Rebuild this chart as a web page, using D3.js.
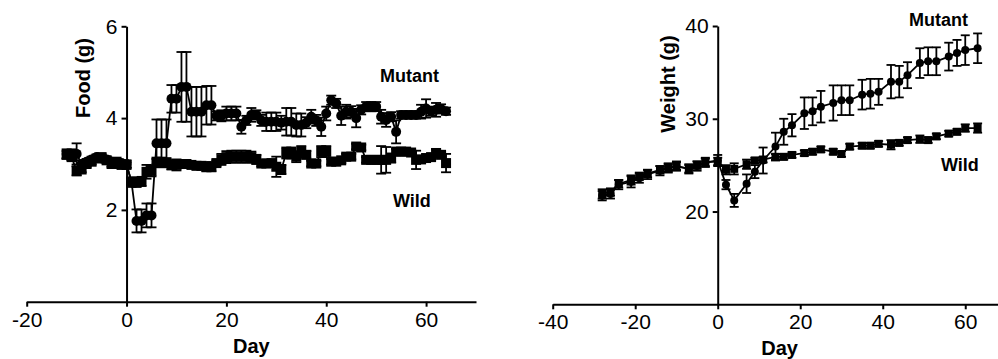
<!DOCTYPE html>
<html>
<head>
<meta charset="utf-8">
<script src="https://cdn.jsdelivr.net/npm/d3@7"></script>
<style>
  body { margin: 0; background: #fff; }
  svg { display: block; font-family: "Liberation Sans", Arial, sans-serif; }
  .axis path, .axis line { stroke: #000; stroke-width: 2; }
  .axis text { font-size: 21px; fill: #000; font-family: "Liberation Sans", Arial, sans-serif; }
  .title { font-size: 20px; font-weight: bold; fill: #000; }
  .label { font-size: 18px; font-weight: bold; fill: #000; }
</style>
</head>
<body>
<svg id="chart" width="998" height="359"></svg>
<script>
// ---- Food intake (g), daily, day -12 .. 64
const foodDays = [-12, -11, -10, -9, -8, -7, -6, -5, -4, -3, -2, -1,
    0, 1, 2, 3, 4, 5, 6, 7, 8, 9, 10, 11, 12, 13, 14, 15, 16, 17, 18, 19,
    20, 21, 22, 23, 24, 25, 26, 27, 28, 29, 30, 31, 32, 33, 34, 35, 36, 37, 38, 39,
    40, 41, 42, 43, 44, 45, 46, 47, 48, 49, 50, 51, 52, 53, 54, 55, 56, 57, 58, 59,
    60, 61, 62, 63, 64];
const foodMutant = [3.22, 3.2, 3.22, 3.0, 3.05, 3.1, 3.15, 3.12, 3.1, 3.05, 3.0, 3.02,
    3.0, 2.6, 1.76, 1.76, 1.88, 1.88, 3.45, 3.45, 3.45, 4.42, 4.42, 4.68, 4.68, 4.14, 4.14, 4.14, 4.28, 4.28, 4.05, 4.05,
    4.1, 4.1, 4.1, 3.81, 3.95, 4.07, 4.07, 3.95, 3.92, 3.92, 3.92, 3.9, 3.92, 3.92, 3.85, 3.85, 3.9, 4.03, 3.95, 3.81,
    4.1, 4.39, 4.32, 4.05, 4.14, 4.14, 4.0, 4.18, 4.25, 4.25, 4.25, 4.03, 3.96, 4.03, 3.7, 4.07, 4.07, 4.07, 4.07, 4.14,
    4.21, 4.15, 4.18, 4.2, 4.15];
const foodMutantErr = [0.1, 0.12, 0.23, 0.08, 0.06, 0.06, 0.05, 0.06, 0.06, 0.05, 0.06, 0.05,
    0.08, 0.1, 0.25, 0.25, 0.26, 0.26, 0.52, 0.52, 0.52, 0.3, 0.3, 0.76, 0.76, 0.54, 0.54, 0.54, 0.42, 0.42, 0.1, 0.12,
    0.15, 0.15, 0.15, 0.15, 0.1, 0.15, 0.1, 0.12, 0.2, 0.2, 0.2, 0.15, 0.3, 0.3, 0.25, 0.25, 0.12, 0.15, 0.12, 0.2,
    0.15, 0.1, 0.1, 0.2, 0.15, 0.12, 0.2, 0.1, 0.1, 0.1, 0.1, 0.15, 0.15, 0.1, 0.25, 0.08, 0.08, 0.08, 0.08, 0.15,
    0.2, 0.1, 0.15, 0.1, 0.08];
const foodWild = [3.2, 3.15, 2.85, 2.88, 3.0, 3.05, 3.12, 3.15, 3.08, 3.0, 3.05, 2.98,
    2.98, 2.62, 2.6, 2.62, 2.83, 2.85, 3.05, 3.05, 3.04, 2.98, 2.98, 3.0, 3.0, 2.98, 2.96, 2.96, 2.94, 2.94, 3.02, 3.1,
    3.15, 3.16, 3.16, 3.16, 3.16, 3.15, 3.1, 3.01, 3.01, 3.02, 2.94, 2.88, 3.24, 3.24, 3.16, 3.27, 3.2, 3.01, 3.01, 3.27,
    3.27, 3.05, 3.05, 3.08, 3.16, 3.16, 3.38, 3.36, 3.09, 3.09, 3.09, 3.09, 3.09, 3.13, 3.27, 3.27, 3.27, 3.25, 3.09, 3.1,
    3.13, 3.15, 3.24, 3.2, 3.02];
const foodWildErr = [0.08, 0.06, 0.1, 0.06, 0.06, 0.06, 0.06, 0.06, 0.06, 0.06, 0.06, 0.06,
    0.06, 0.08, 0.1, 0.1, 0.15, 0.12, 0.06, 0.06, 0.06, 0.1, 0.12, 0.06, 0.06, 0.06, 0.06, 0.06, 0.1, 0.1, 0.06, 0.12,
    0.13, 0.13, 0.13, 0.13, 0.13, 0.12, 0.1, 0.06, 0.06, 0.06, 0.22, 0.1, 0.12, 0.12, 0.12, 0.12, 0.08, 0.06, 0.06, 0.12,
    0.12, 0.06, 0.06, 0.06, 0.06, 0.06, 0.06, 0.06, 0.06, 0.06, 0.06, 0.3, 0.28, 0.1, 0.06, 0.06, 0.06, 0.06, 0.2, 0.06,
    0.06, 0.06, 0.08, 0.06, 0.2];

// ---- Body weight (g), Mon/Wed/Fri
const weightDays = [-28, -26, -24, -21, -19, -17, -14, -12, -10, -7, -5, -3, 0,
    2, 4, 7, 9, 11, 14, 16, 18, 21, 23, 25, 28, 30, 32, 35, 37, 39, 42, 44, 46, 49, 51, 53, 56, 58, 60, 63];
const weightMutant = [21.7, 21.9, 22.9, 23.2, 23.6, 24.0, 24.4, 24.7, 24.9, 24.6, 24.9, 25.3, 25.5,
    22.9, 21.2, 23.0, 24.3, 25.5, 27.0, 28.6, 29.3, 30.6, 30.8, 31.3, 31.7, 32.0, 32.0, 32.6, 32.7, 32.9,
    34.0, 34.0, 34.7, 36.0, 36.2, 36.2, 36.7, 37.1, 37.4, 37.6];
const weightMutantErr = [0.5, 0.5, 0.5, 0.6, 0.5, 0.5, 0.5, 0.5, 0.5, 0.5, 0.5, 0.5, 0.6,
    0.5, 0.7, 1.0, 0.7, 1.4, 1.5, 1.4, 1.2, 1.7, 1.5, 1.7, 1.9, 1.6, 1.6, 1.6, 1.6, 1.4,
    1.8, 1.7, 1.4, 1.6, 1.5, 1.5, 1.5, 1.4, 1.6, 1.6];
const weightWild = [21.9, 22.1, 23.0, 23.4, 23.8, 24.1, 24.5, 24.7, 24.9, 24.6, 25.0, 25.3, 25.4,
    24.5, 24.6, 25.1, 25.5, 25.6, 25.9, 25.9, 26.1, 26.3, 26.45, 26.7, 26.45, 26.2, 27.0, 27.1, 27.1, 27.3,
    27.2, 27.4, 27.7, 27.8, 27.7, 28.1, 28.4, 28.6, 29.0, 29.0];
const weightWildErr = [0.5, 0.4, 0.4, 0.5, 0.4, 0.4, 0.4, 0.4, 0.4, 0.4, 0.4, 0.4, 0.4,
    0.5, 0.6, 0.5, 0.3, 0.3, 0.3, 0.3, 0.3, 0.3, 0.3, 0.3, 0.3, 0.3, 0.3, 0.3, 0.3, 0.3,
    0.5, 0.3, 0.3, 0.4, 0.3, 0.3, 0.3, 0.3, 0.4, 0.5];

const foodXTicks = [-20, 0, 20, 40, 60];
const foodYTicks = [2, 4, 6];
const weightXTicks = [-40, -20, 0, 20, 40, 60];
const weightYTicks = [20, 30, 40];

const zip = (days, vals, errs) => days.map((d, i) => ({ day: d, v: vals[i], e: errs[i] }));
// plain hyphen for negatives, no decimals (Prism style)
const plain = d => String(d);

/** One scatter panel with SEM bars, axes crossing at day 0. */
class Panel {
    constructor(svg, opts) {
        this.g = svg.append('g');
        this.o = opts;
        this.x = d3.scaleLinear().domain(opts.xDomain).range(opts.xRange);
        this.y = d3.scaleLinear().domain(opts.yDomain).range(opts.yRange);
    }

    drawAxes() {
        let o = this.o, x = this.x, y = this.y;
        this.g.append('g')
            .attr('class', 'axis')
            .attr('transform', 'translate(0,' + y(o.yDomain[0]) + ')')
            .call(d3.axisBottom(x).tickValues(o.xTicks).tickFormat(plain)
                .tickSize(5).tickSizeOuter(0).tickPadding(5));
        this.g.append('g')
            .attr('class', 'axis')
            .attr('transform', 'translate(' + x(0) + ',0)')
            .call(d3.axisLeft(y).tickValues(o.yTicks).tickFormat(plain)
                .tickSize(5).tickSizeOuter(0).tickPadding(4));

        this.g.append('text')
            .attr('class', 'title')
            .attr('text-anchor', 'middle')
            .attr('x', (o.xRange[0] + o.xRange[1]) / 2)
            .attr('y', o.xTitleY)
            .text('Day');
        this.g.append('text')
            .attr('class', 'title')
            .attr('text-anchor', 'middle')
            .attr('transform', 'translate(' + o.yTitlePos[0] + ',' + o.yTitlePos[1] + ') rotate(-90)')
            .text(o.yTitle);
    }

    drawSeries(data, shape) {
        let o = this.o, x = this.x, y = this.y, g = this.g.append('g');
        let line = d3.line().x(d => x(d.day)).y(d => y(d.v));
        g.append('path')
            .datum(data)
            .attr('fill', 'none')
            .attr('stroke', '#000')
            .attr('stroke-width', 1.8)
            .attr('d', line);

        let bars = g.selectAll('.err').data(data).enter().append('g')
            .attr('stroke', '#000')
            .attr('stroke-width', 1.8);
        bars.append('line')
            .attr('x1', d => x(d.day)).attr('x2', d => x(d.day))
            .attr('y1', d => y(d.v - d.e)).attr('y2', d => y(d.v + d.e));
        [1, -1].forEach(s => {
            bars.append('line')
                .attr('x1', d => x(d.day) - o.cap).attr('x2', d => x(d.day) + o.cap)
                .attr('y1', d => y(d.v + s * d.e)).attr('y2', d => y(d.v + s * d.e));
        });

        if (shape === 'circle') {
            g.selectAll('circle').data(data).enter().append('circle')
                .attr('cx', d => x(d.day))
                .attr('cy', d => y(d.v))
                .attr('r', o.r)
                .attr('fill', '#000');
        } else {
            g.selectAll('rect').data(data).enter().append('rect')
                .attr('x', d => x(d.day) - o.sq / 2)
                .attr('y', d => y(d.v) - o.sq / 2)
                .attr('width', o.sq)
                .attr('height', o.sq)
                .attr('fill', '#000');
        }
    }

    label(text, pos) {
        this.g.append('text')
            .attr('class', 'label')
            .attr('x', pos[0])
            .attr('y', pos[1])
            .text(text);
    }
}

const svg = d3.select('#chart');

let food = new Panel(svg, {
    xDomain: [-20, 70], xRange: [26.7, 476],
    yDomain: [0, 6], yRange: [301.7, 26.3],
    xTicks: foodXTicks, yTicks: foodYTicks,
    yTitle: 'Food (g)', yTitlePos: [90, 78], xTitleY: 353,
    r: 5, sq: 10, cap: 5
});
food.drawAxes();
food.drawSeries(zip(foodDays, foodWild, foodWildErr), 'square');
food.drawSeries(zip(foodDays, foodMutant, foodMutantErr), 'circle');
food.label('Mutant', [380, 81.5]);
food.label('Wild', [393, 206.5]);

let weight = new Panel(svg, {
    xDomain: [-40, 70], xRange: [552.7, 1006.5],
    yDomain: [10, 40], yRange: [304.3, 26],
    xTicks: weightXTicks, yTicks: weightYTicks,
    yTitle: 'Weight (g)', yTitlePos: [675, 84], xTitleY: 354.5,
    r: 4, sq: 8, cap: 4.5
});
weight.drawAxes();
weight.drawSeries(zip(weightDays, weightWild, weightWildErr), 'square');
weight.drawSeries(zip(weightDays, weightMutant, weightMutantErr), 'circle');
weight.label('Mutant', [909, 26]);
weight.label('Wild', [941, 171]);
</script>
</body>
</html>
